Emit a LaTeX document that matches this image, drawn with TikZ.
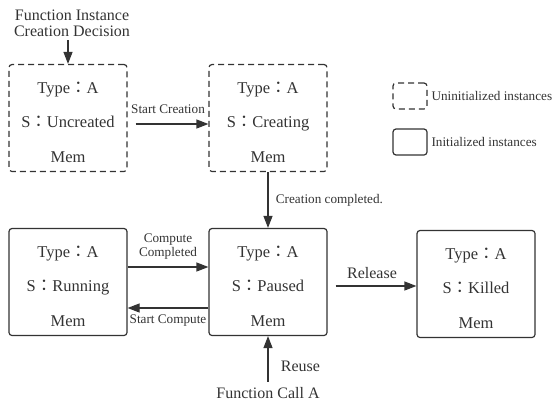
\documentclass[tikz,border=0pt]{standalone}
\usepackage{fontspec}
\setmainfont{Liberation Serif}
\newfontfamily\cjk{Noto Sans CJK JP}
\usetikzlibrary{arrows.meta}
\definecolor{ink}{HTML}{333333}
\newcommand{\cn}{{\cjk ：}}

\begin{document}
\begin{tikzpicture}[x=1pt, y=1pt, node distance={200pt}, line width=1.2pt, color=ink,
        main/.style = {draw, rounded corners=3pt, minimum width=118pt, minimum height=107pt},
        new/.style = {main, dash pattern=on 6pt off 4pt},
        st/.style = {align=center, font=\fontsize{16.5}{34.5}\selectfont, yshift=-4pt},
        key/.style = {draw, rounded corners=3pt, minimum width=34pt, minimum height=26pt},
        arr/.style = {-{Triangle[length=12pt, width=9pt]}},
        small/.style = {font=\fontsize{13.2}{14}\selectfont, align=center},
        mid/.style = {font=\fontsize{16}{16}\selectfont, align=center}]
        \useasboundingbox (0,0) rectangle (553,-402);
        \node[new, label={[st]center:Type\cn A\\S\cn Uncreated\\Mem}] (1) at (68,-118) {};
        \node[new, label={[st]center:Type\cn A\\S\cn Creating\\Mem}] (2) [right of=1] {};
        \node[main, label={[st]center:Type\cn A\\S\cn Paused\\Mem}] (4) [below of=2, node distance=164pt] {};
        \node[main, label={[st]center:Type\cn A\\S\cn Running\\Mem}] (3) [left of=4] {};
        \node[main, label={[st]center:Type\cn A\\S\cn Killed\\Mem}] (5) [right of=4, node distance=208pt, yshift=-2pt] {};
        \node[mid] (6) at (72,-23) {Function Instance\\Creation Decision};
        \node[mid, inner sep=2pt] (7) at (268,-393) {Function Call A};
        \node[key, dash pattern=on 6pt off 4pt, label={[small]right:Uninitialized instances}] (l1) at (410,-96) {};
        \node[key, label={[small]right:Initialized instances}] (l2) at (410,-142) {};
        \draw[arr] (6.south -| 1.north) -- (1.north);
        \draw[arr, shorten <=8pt] ([yshift=-6pt]1.east) -- node[small, above=6pt] {Start Creation} ([yshift=-6pt]2.west);
        \draw[arr] (2) -- node[small, right=4pt] {Creation completed.} (4);
        \draw[arr] ([yshift=15pt]3.east) -- node[small, above=4pt] {Compute\\Completed} ([yshift=15pt]4.west);
        \draw[arr] ([yshift=-26pt]4.west) -- node[small, below=3pt] {Start Compute} ([yshift=-26pt]3.east);
        \draw[arr, shorten <=8pt] ([yshift=-4pt]4.east) -- node[mid, above=3pt] {Release} ([yshift=-2pt]5.west);
        \draw[arr, shorten <=3pt] (7) -- node[mid, right=9pt, pos=0.37] {Reuse} (4);
    \end{tikzpicture}
\end{document}
